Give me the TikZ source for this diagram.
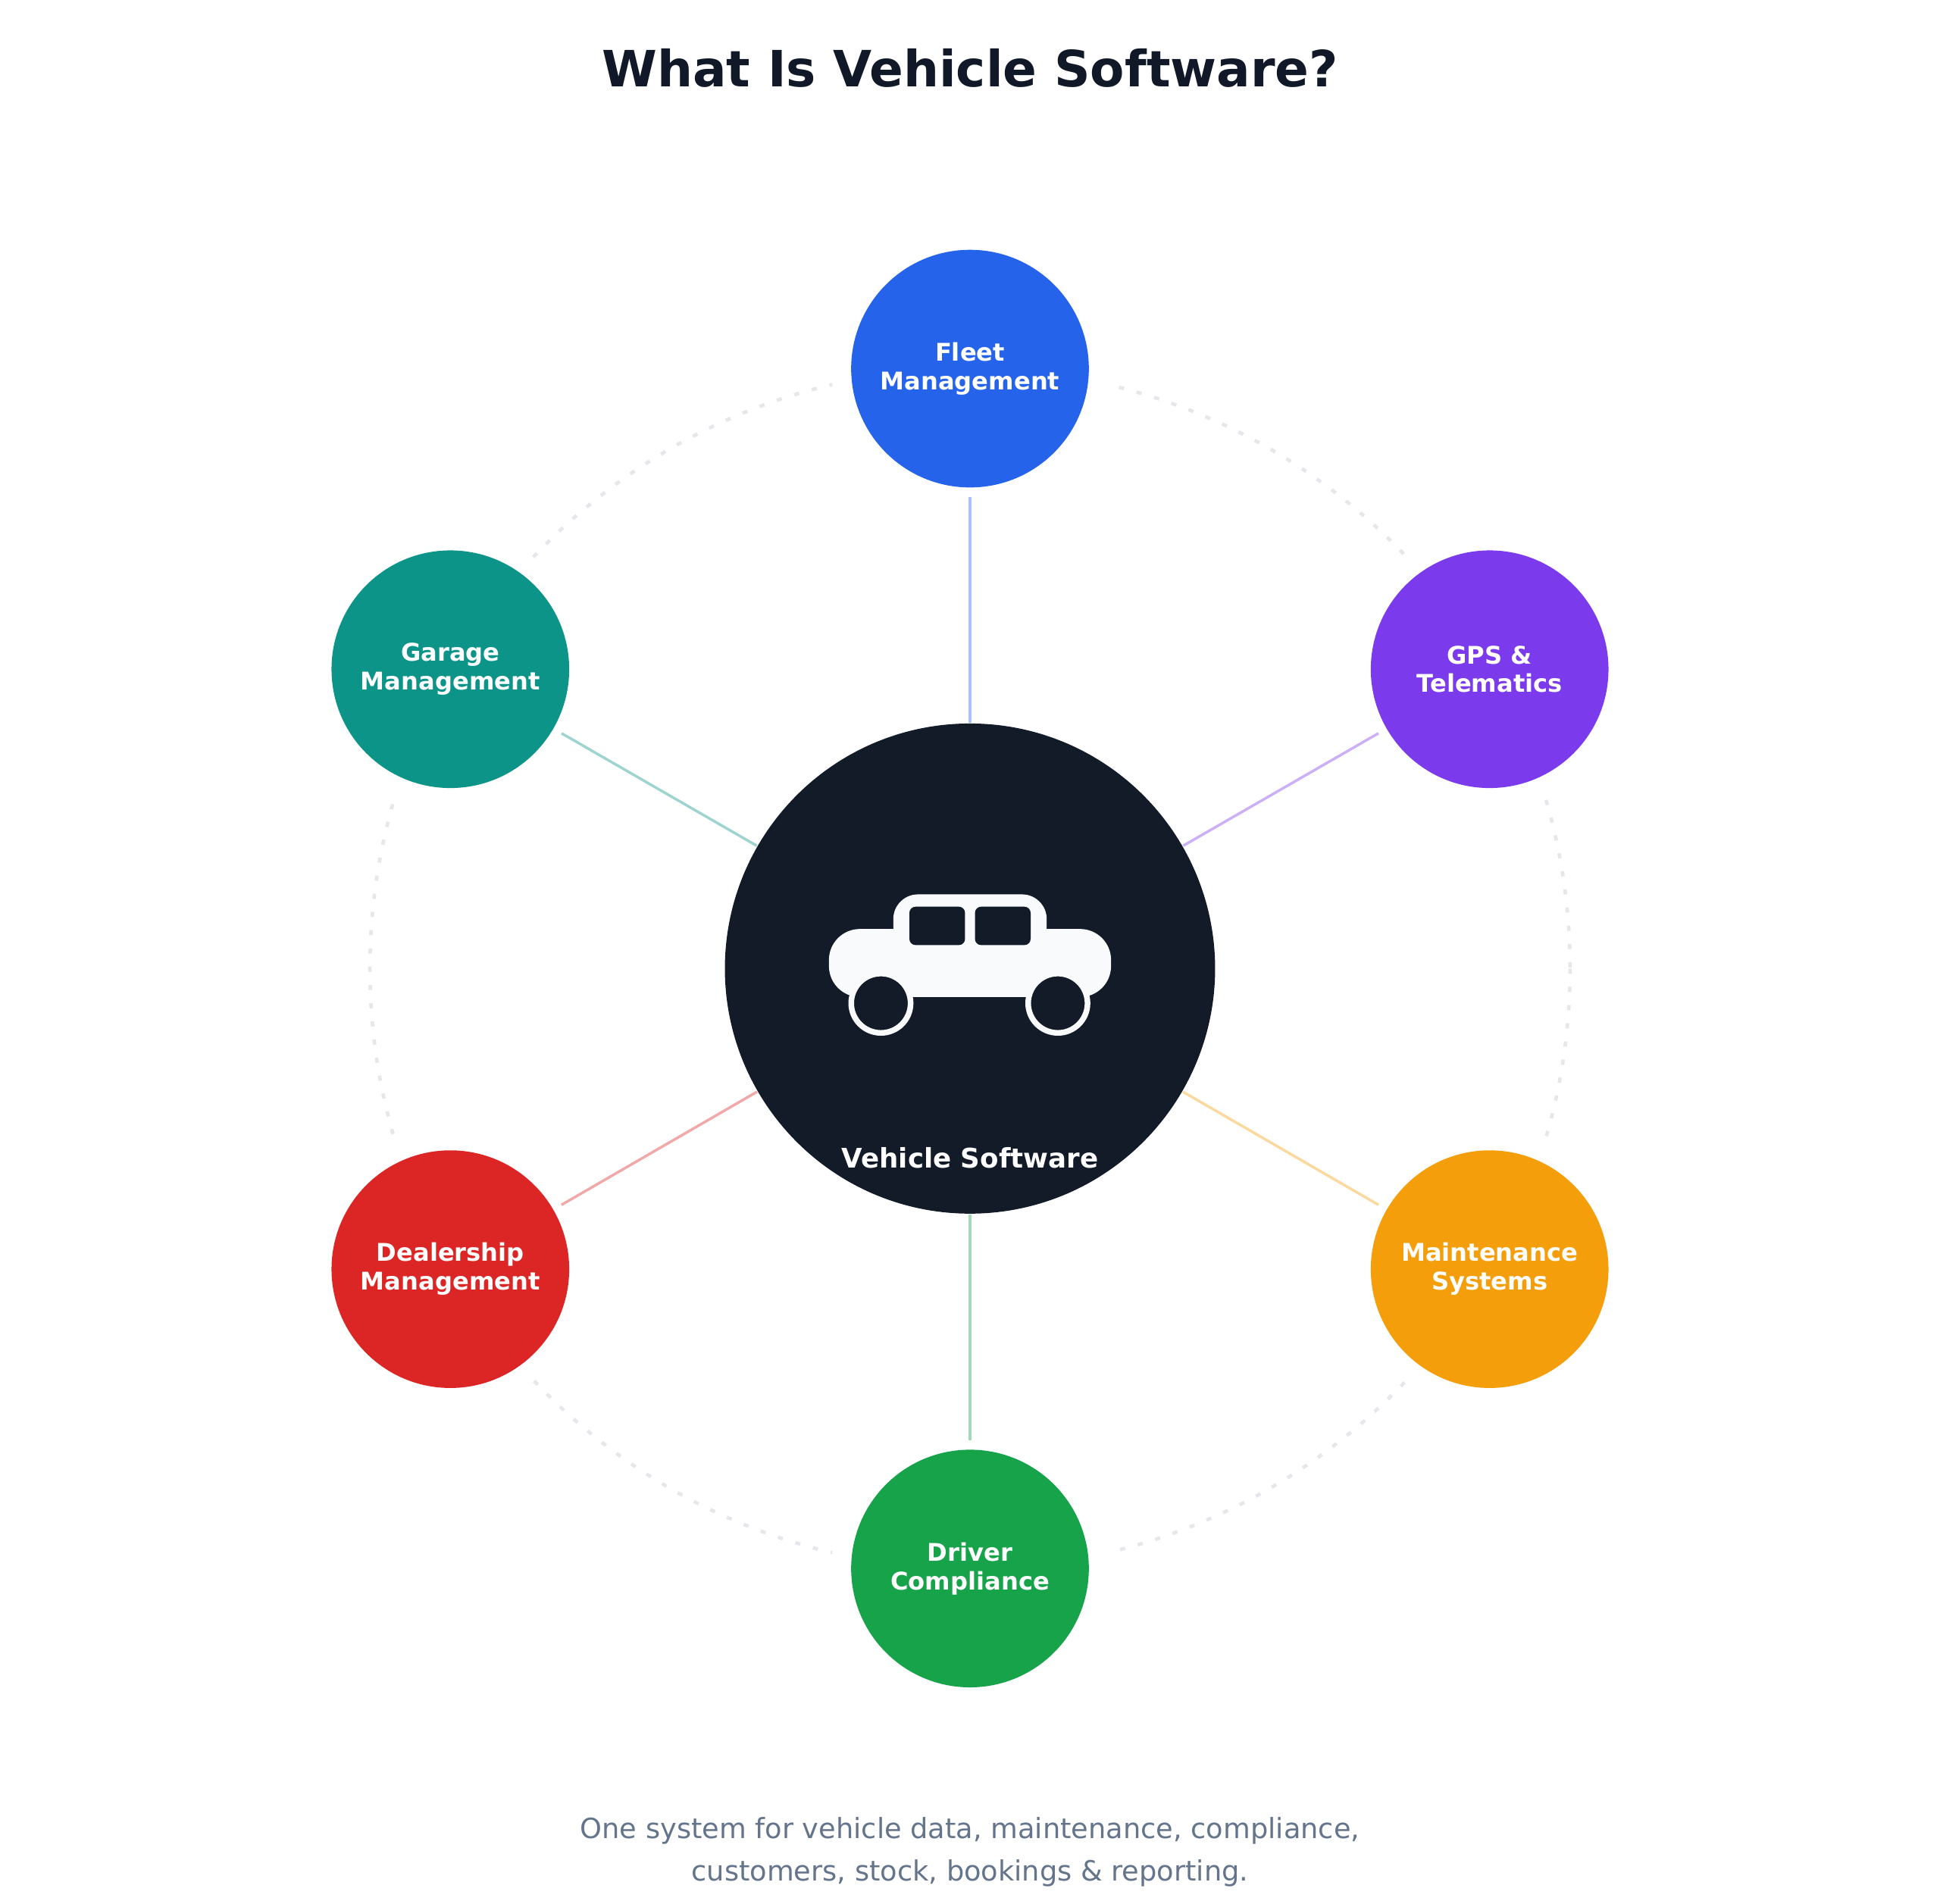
\documentclass[tikz,border=0pt]{standalone}
\usepackage{fontspec}
\setmainfont{DejaVu Sans}
\definecolor{ink}{HTML}{111827}
\definecolor{hub}{HTML}{131A28}
\definecolor{slate}{HTML}{64748B}
\definecolor{orbit}{HTML}{E5E7EB}
\definecolor{fleetc}{HTML}{2563EB}
\definecolor{gpsc}{HTML}{7C3AED}
\definecolor{maintc}{HTML}{F59E0B}
\definecolor{driverc}{HTML}{16A34A}
\definecolor{dealc}{HTML}{DC2626}
\definecolor{garagec}{HTML}{0D9488}
\definecolor{carc}{HTML}{F8FAFC}
\tikzset{
  spoke/.style={circle, minimum size=1.92cm, inner sep=0pt, align=center, text=white,
    font=\fontsize{5.6}{6.6}\selectfont\bfseries},
  link/.style={line width=0.6pt, shorten >=0.07cm},
}
\begin{document}
\begin{tikzpicture}[x=0.01cm, y=-0.01cm]
  \useasboundingbox (0,0) rectangle (1568,1539);
  \node (title) at (784,55) {\fontsize{11.5}{13}\selectfont\bfseries\color{ink}What Is Vehicle Software?};
  % orbit
  \draw[orbit, line width=0.8pt, dash pattern=on 1.2pt off 3pt] (784,783) circle (485);
  % hub
  \node[circle, fill=hub, minimum size=3.96cm, inner sep=0pt] (hub) at (784,783) {};
  % outer nodes
  \foreach \n/\x/\y in {fleet/784/298, gps/1204/541, maint/1204/1026, driver/784/1268, deal/364/1026, garage/364/541}
    \fill[white] (\x,\y) circle (112);
  \node[spoke, fill=fleetc] (fleet) at (784,298) {Fleet\\Management};
  \node[spoke, fill=gpsc] (gps) at (1204,541) {GPS \&\\Telematics};
  \node[spoke, fill=maintc] (maint) at (1204,1026) {Maintenance\\Systems};
  \node[spoke, fill=driverc] (driver) at (784,1268) {Driver\\Compliance};
  \node[spoke, fill=dealc] (deal) at (364,1026) {Dealership\\Management};
  \node[spoke, fill=garagec] (garage) at (364,541) {Garage\\Management};
  % connectors
  \draw[link, fleetc!40] (hub) -- (fleet);
  \draw[link, gpsc!40] (hub) -- (gps);
  \draw[link, maintc!40] (hub) -- (maint);
  \draw[link, driverc!40] (hub) -- (driver);
  \draw[link, dealc!40] (hub) -- (deal);
  \draw[link, garagec!40] (hub) -- (garage);
  % car
  \fill[carc, rounded corners=0.2cm] (722,723) rectangle (846,770);
  \fill[carc, rounded corners=0.25cm] (670,751) rectangle (898,806);
  \fill[hub, rounded corners=0.05cm] (735,733) rectangle (780,764);
  \fill[hub, rounded corners=0.05cm] (788,733) rectangle (833,764);
  \filldraw[fill=hub, draw=carc, line width=1.3pt] (712,811) circle (24);
  \filldraw[fill=hub, draw=carc, line width=1.3pt] (855,811) circle (24);
  \node[text=white, font=\fontsize{6.2}{7}\selectfont\bfseries] (hublabel) at (784,936) {Vehicle Software};
  % footer
  \node[text=slate, align=center, font=\fontsize{6.4}{9.8}\selectfont] (footer) at (784,1497)
    {One system for vehicle data, maintenance, compliance,\\customers, stock, bookings \& reporting.};
\end{tikzpicture}
\end{document}
